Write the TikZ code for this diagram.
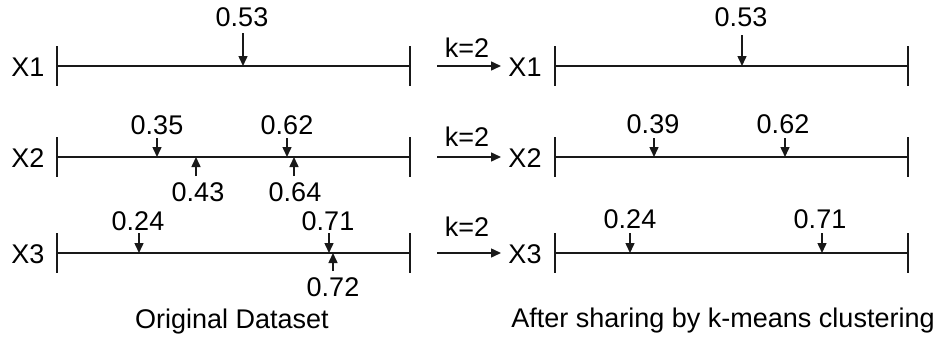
\documentclass[tikz,border=0pt]{standalone}
\usepackage{fontspec}
\setmainfont{Liberation Sans}
\usetikzlibrary{arrows.meta}
\begin{document}
\begin{tikzpicture}[x=1pt,y=-1pt,
  lbl/.style={anchor=base,inner sep=0pt,font=\fontsize{27}{31}\selectfont},
  axisline/.style={line width=1.6pt,draw=black!90},
  ptr/.style={line width=1.5pt,draw=black!90,-{Triangle[width=9pt,length=10pt]}},
]
\useasboundingbox (0,0) rectangle (940,340);

% ---------- left axes ----------
\coordinate (L1a) at (57,66);  \coordinate (L1b) at (410,66);
\coordinate (L2a) at (57,157); \coordinate (L2b) at (410,157);
\coordinate (L3a) at (57,253); \coordinate (L3b) at (410,253);
\foreach \r in {1,2,3}{
  \draw[axisline] (L\r a) -- (L\r b);
  \draw[axisline] (L\r a) ++(0,-20) -- ++(0,40);
  \draw[axisline] (L\r b) ++(0,-20) -- ++(0,40);
}
\node[lbl] (lx1) at (28,76) {X1};
\node[lbl] (lx2) at (28,167) {X2};
\node[lbl] (lx3) at (28,263) {X3};

% row 1 left
\node[lbl] (l053) at (242,26) {0.53};
\coordinate (l053s) at (243,33); \coordinate (l053t) at (243,66);
\draw[ptr] (l053s) -- (l053t);

% row 2 left
\node[lbl] (l035) at (157,134) {0.35};
\coordinate (l035s) at (157,138); \coordinate (l035t) at (157,157);
\draw[ptr] (l035s) -- (l035t);
\node[lbl] (l062) at (287,134) {0.62};
\coordinate (l062s) at (287,138); \coordinate (l062t) at (287,157);
\draw[ptr] (l062s) -- (l062t);
\node[lbl] (l043) at (198,201.5) {0.43};
\coordinate (l043s) at (196,176); \coordinate (l043t) at (196,157);
\draw[ptr] (l043s) -- (l043t);
\node[lbl] (l064) at (295,201.5) {0.64};
\coordinate (l064s) at (294,176); \coordinate (l064t) at (294,157);
\draw[ptr] (l064s) -- (l064t);

% row 3 left
\node[lbl] (l024) at (138,230) {0.24};
\coordinate (l024s) at (139,233); \coordinate (l024t) at (139,253);
\draw[ptr] (l024s) -- (l024t);
\node[lbl] (l071) at (328,230) {0.71};
\coordinate (l071s) at (329,233); \coordinate (l071t) at (329,253);
\draw[ptr] (l071s) -- (l071t);
\node[lbl] (l072) at (333,296.5) {0.72};
\coordinate (l072s) at (333,271); \coordinate (l072t) at (333,253);
\draw[ptr] (l072s) -- (l072t);

\node[lbl] (orig) at (232,328) {Original Dataset};

% ---------- k=2 arrows ----------
\coordinate (k1s) at (437,66);  \coordinate (k1t) at (501,66);
\coordinate (k2s) at (437,157); \coordinate (k2t) at (501,157);
\coordinate (k3s) at (437,253); \coordinate (k3t) at (501,253);
\draw[ptr] (k1s) -- (k1t);
\draw[ptr] (k2s) -- (k2t);
\draw[ptr] (k3s) -- (k3t);
\node[lbl] (k1) at (467,57) {k=2};
\node[lbl] (k2) at (467,146) {k=2};
\node[lbl] (k3) at (467,236) {k=2};

% ---------- right axes ----------
\coordinate (R1a) at (555,66);  \coordinate (R1b) at (908,66);
\coordinate (R2a) at (555,157); \coordinate (R2b) at (908,157);
\coordinate (R3a) at (555,253); \coordinate (R3b) at (908,253);
\foreach \r in {1,2,3}{
  \draw[axisline] (R\r a) -- (R\r b);
  \draw[axisline] (R\r a) ++(0,-20) -- ++(0,40);
  \draw[axisline] (R\r b) ++(0,-20) -- ++(0,40);
}
\node[lbl] (rx1) at (525,76) {X1};
\node[lbl] (rx2) at (525,167) {X2};
\node[lbl] (rx3) at (525,263) {X3};

\node[lbl] (r053) at (741,26) {0.53};
\coordinate (r053s) at (742,35); \coordinate (r053t) at (742,66);
\draw[ptr] (r053s) -- (r053t);

\node[lbl] (r039) at (653,133) {0.39};
\coordinate (r039s) at (654,138); \coordinate (r039t) at (654,157);
\draw[ptr] (r039s) -- (r039t);
\node[lbl] (r062) at (783,133) {0.62};
\coordinate (r062s) at (785,138); \coordinate (r062t) at (785,157);
\draw[ptr] (r062s) -- (r062t);

\node[lbl] (r024) at (630,228) {0.24};
\coordinate (r024s) at (630,233); \coordinate (r024t) at (630,253);
\draw[ptr] (r024s) -- (r024t);
\node[lbl] (r071) at (820,228) {0.71};
\coordinate (r071s) at (822,233); \coordinate (r071t) at (822,253);
\draw[ptr] (r071s) -- (r071t);

\node[lbl] (after) at (723,327) {After sharing by k-means clustering};
\end{tikzpicture}
\end{document}
